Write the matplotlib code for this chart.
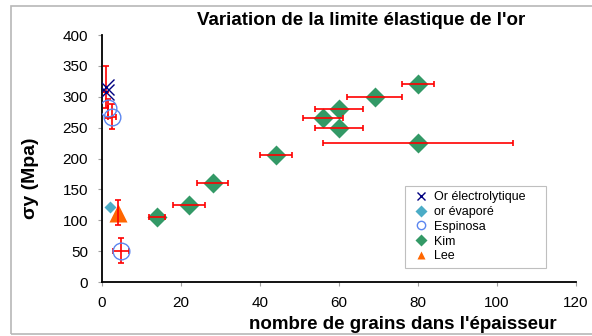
import matplotlib
matplotlib.use("Agg")
import matplotlib.pyplot as plt
from matplotlib.patches import Rectangle

plt.rcParams['font.family'] = ['Liberation Sans', 'DejaVu Sans']

# --- data
elec_x = [1.0, 1.0]
elec_y = [316, 308]
elec_yerr = [34, 0]

evap_x = [2.0]
evap_y = [121]

esp_x = [1.5, 2.5, 4.8]
esp_y = [281, 268, 51]
esp_xerr = [0, 1, 2]
esp_yerr = [15, 20, 20]

kim_x = [14, 22, 28, 44, 56, 60, 60, 69, 80, 80]
kim_y = [105, 125, 160, 205, 265, 280, 250, 300, 320, 225]
kim_xerr = [2, 4, 4, 4, 5, 6, 6, 7, 4, 24]

lee_x = [4.0]
lee_y = [112]
lee_yerr = [20]

xticks = [0, 20, 40, 60, 80, 100, 120]
yticks = [0, 50, 100, 150, 200, 250, 300, 350, 400]

fig = plt.figure(figsize=(5.92, 3.36), dpi=100)
ax = fig.add_axes([0.1723, 0.1607, 0.8007, 0.7351])

red = '#ff0000'
ekw = dict(fmt='none', ecolor=red, elinewidth=1.2, capsize=2.5, capthick=1.2, zorder=3)

ax.errorbar(elec_x, elec_y, yerr=elec_yerr, **ekw)
ax.errorbar(esp_x, esp_y, xerr=esp_xerr, yerr=esp_yerr, **ekw)
ax.errorbar(kim_x, kim_y, xerr=kim_xerr, **ekw)
ax.errorbar(lee_x, lee_y, yerr=lee_yerr, **ekw)

ax.plot(elec_x, elec_y, 'x', color='#000080', ms=12, mew=1.0, label='Or électrolytique', zorder=4)
ax.plot(evap_x, evap_y, 'D', color='#4bacc6', ms=6, mec='none', label='or évaporé', zorder=4)
ax.plot(esp_x, esp_y, 'o', mfc='none', mec='#5b86f0', ms=12, mew=1.0, label='Espinosa', zorder=4)
ax.plot(kim_x, kim_y, 'D', color='#339966', ms=10, mec='none', label='Kim', zorder=2)
ax.plot(lee_x, lee_y, '^', color='#ff6600', ms=13, mec='none', label='Lee', zorder=2)

ax.set_xlim(0, 120)
ax.set_ylim(0, 400)
ax.set_xticks(xticks)
ax.set_yticks(yticks)
ax.tick_params(labelsize=11, length=3, color='#a0a0a0', width=0.8, pad=7)
for s in ['top', 'right']:
    ax.spines[s].set_visible(False)
for s in ['left', 'bottom']:
    ax.spines[s].set_linewidth(1.3)

leg = ax.legend(loc='lower left', bbox_to_anchor=(0.639, 0.057, 0.297, 0.1), mode='expand',
                fontsize=9, frameon=True, fancybox=False, handlelength=1.6, handletextpad=0.3,
                borderpad=0.45, labelspacing=0.22, borderaxespad=0)
leg.get_frame().set_edgecolor('#b0b0b0')
leg.get_frame().set_linewidth(0.8)
for h in leg.legend_handles:
    h.set_markersize(6)

fig.text(0.61, 0.94, "Variation de la limite élastique de l'or", ha='center', va='center',
         fontsize=13.5, fontweight='bold')
fig.text(0.052, 0.47, 'σy (Mpa)', rotation=90, ha='center', va='center',
         fontsize=14, fontweight='bold')
fig.text(0.68, 0.033, "nombre de grains dans l'épaisseur", ha='center', va='center',
         fontsize=13.5, fontweight='bold')

fig.patches.append(Rectangle((0.018, 0.006), 1.2, 0.976, transform=fig.transFigure,
                             fill=False, edgecolor='#b8b8b8', linewidth=1.2))

fig.savefig('out.png', dpi=100)
